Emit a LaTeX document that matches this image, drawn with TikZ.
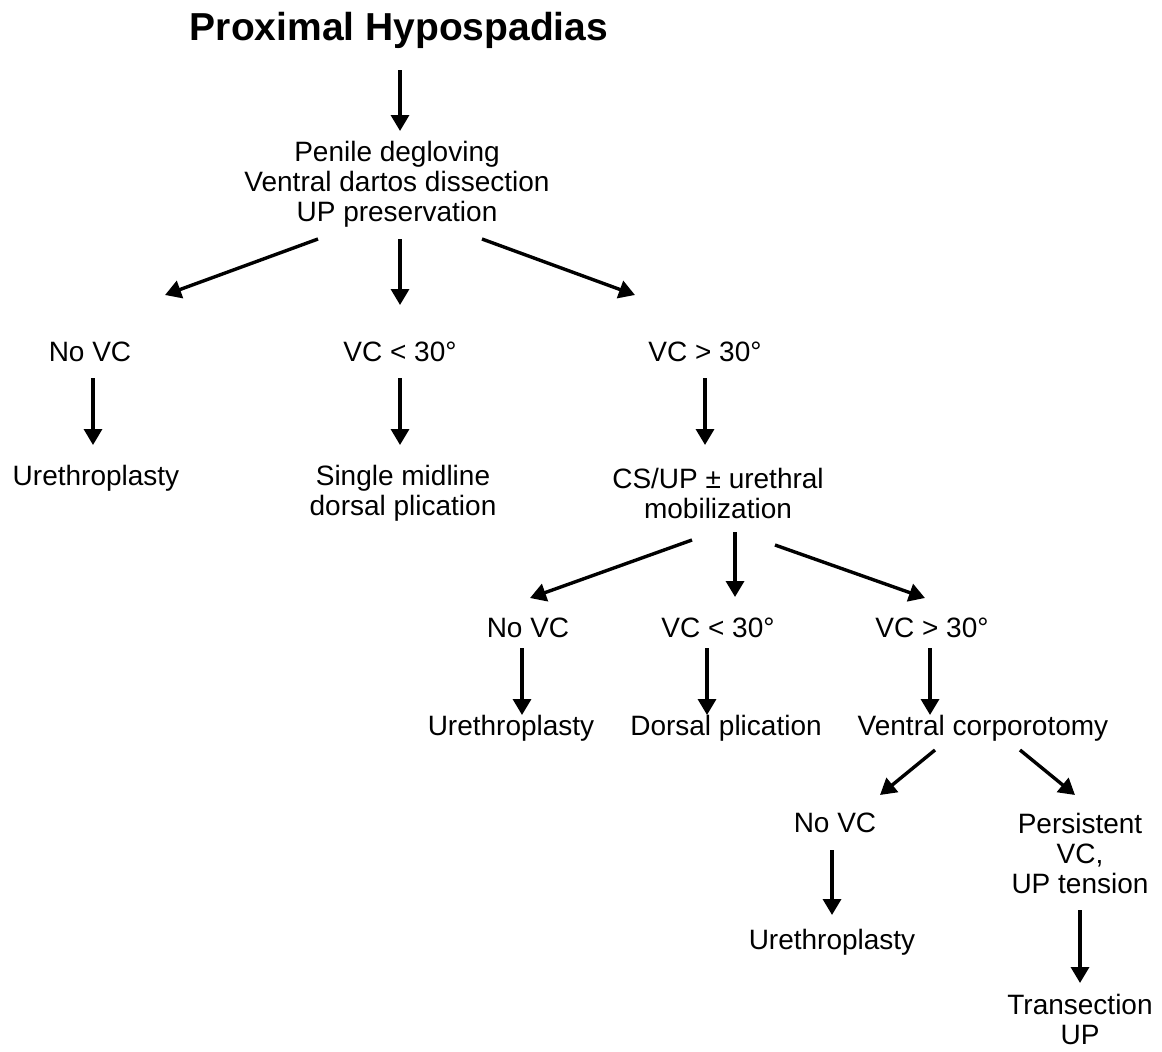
\documentclass[tikz,border=0pt]{standalone}
\usepackage{fontspec}
\setmainfont{Liberation Sans}
\usetikzlibrary{arrows.meta,calc}
\begin{document}
\begin{tikzpicture}[x=1pt,y=-1pt,
  lbl/.style={align=center,inner sep=0pt,font=\fontsize{28}{30}\selectfont},
  ttl/.style={inner sep=0pt,font=\fontsize{39}{42}\selectfont\bfseries},
  arr/.style={line width=3.4pt,-{Triangle[length=16pt,width=18pt]}}]
\useasboundingbox (0,0) rectangle (1162,1052);
\node[ttl] (title) at (399,30) {Proximal Hypospadias};
\node[lbl] (blk) at (397,184) {Penile degloving\\Ventral dartos dissection\\UP preservation};
\node[lbl] (nA) at (90,352) {No VC};
\node[lbl] (nB) at (400,352) {VC < 30°};
\node[lbl] (nC) at (705,352) {VC > 30°};
\node[lbl] (uA) at (96,478) {Urethroplasty};
\node[lbl] (sB) at (403,493) {Single midline\\dorsal plication};
\node[lbl] (cC) at (718,493) {CS/UP ± urethral\\mobilization};
\node[lbl] (n2A) at (528,628) {No VC};
\node[lbl] (n2B) at (718,628) {VC < 30°};
\node[lbl] (n2C) at (932,628) {VC > 30°};
\node[lbl] (u2A) at (511,728) {Urethroplasty};
\node[lbl] (dP) at (726,728) {Dorsal plication};
\node[lbl] (vCo) at (983,728) {Ventral corporotomy};
\node[lbl] (n3A) at (835,823) {No VC};
\node[lbl] (pers) at (1080,853) {Persistent\\VC,\\UP tension};
\node[lbl] (u3) at (832,942) {Urethroplasty};
\node[lbl] (trans) at (1080,1019) {Transection\\UP};
\draw[arr] ($(title)+(1,40)$) -- ($(blk)+(3,-53)$);
\draw[arr] ($(blk)+(-79,55)$) -- ($(nA)+(75,-57)$);
\draw[arr] ($(blk)+(3,55)$) -- ($(nB)+(0,-47)$);
\draw[arr] ($(blk)+(85,55)$) -- ($(nC)+(-70,-57)$);
\draw[arr] ($(nA)+(3,26)$) -- ($(uA)+(-3,-33)$);
\draw[arr] ($(nB)+(0,26)$) -- ($(sB)+(-3,-48)$);
\draw[arr] ($(nC)+(0,26)$) -- ($(cC)+(-13,-48)$);
\draw[arr] ($(cC)+(-26,47)$) -- ($(n2A)+(2,-30)$);
\draw[arr] ($(cC)+(17,39)$) -- ($(n2B)+(17,-31)$);
\draw[arr] ($(cC)+(57,52)$) -- ($(n2C)+(-7,-30)$);
\draw[arr] ($(n2A)+(-6,20)$) -- ($(u2A)+(11,-13)$);
\draw[arr] ($(n2B)+(-11,20)$) -- ($(dP)+(-19,-13)$);
\draw[arr] ($(n2C)+(-2,20)$) -- ($(vCo)+(-53,-13)$);
\draw[arr] ($(vCo)+(-48,22)$) -- ($(n3A)+(45,-28)$);
\draw[arr] ($(vCo)+(37,22)$) -- ($(pers)+(-5,-58)$);
\draw[arr] ($(n3A)+(-3,27)$) -- ($(u3)+(0,-27)$);
\draw[arr] ($(pers)+(0,57)$) -- ($(trans)+(0,-36)$);
\end{tikzpicture}
\end{document}
